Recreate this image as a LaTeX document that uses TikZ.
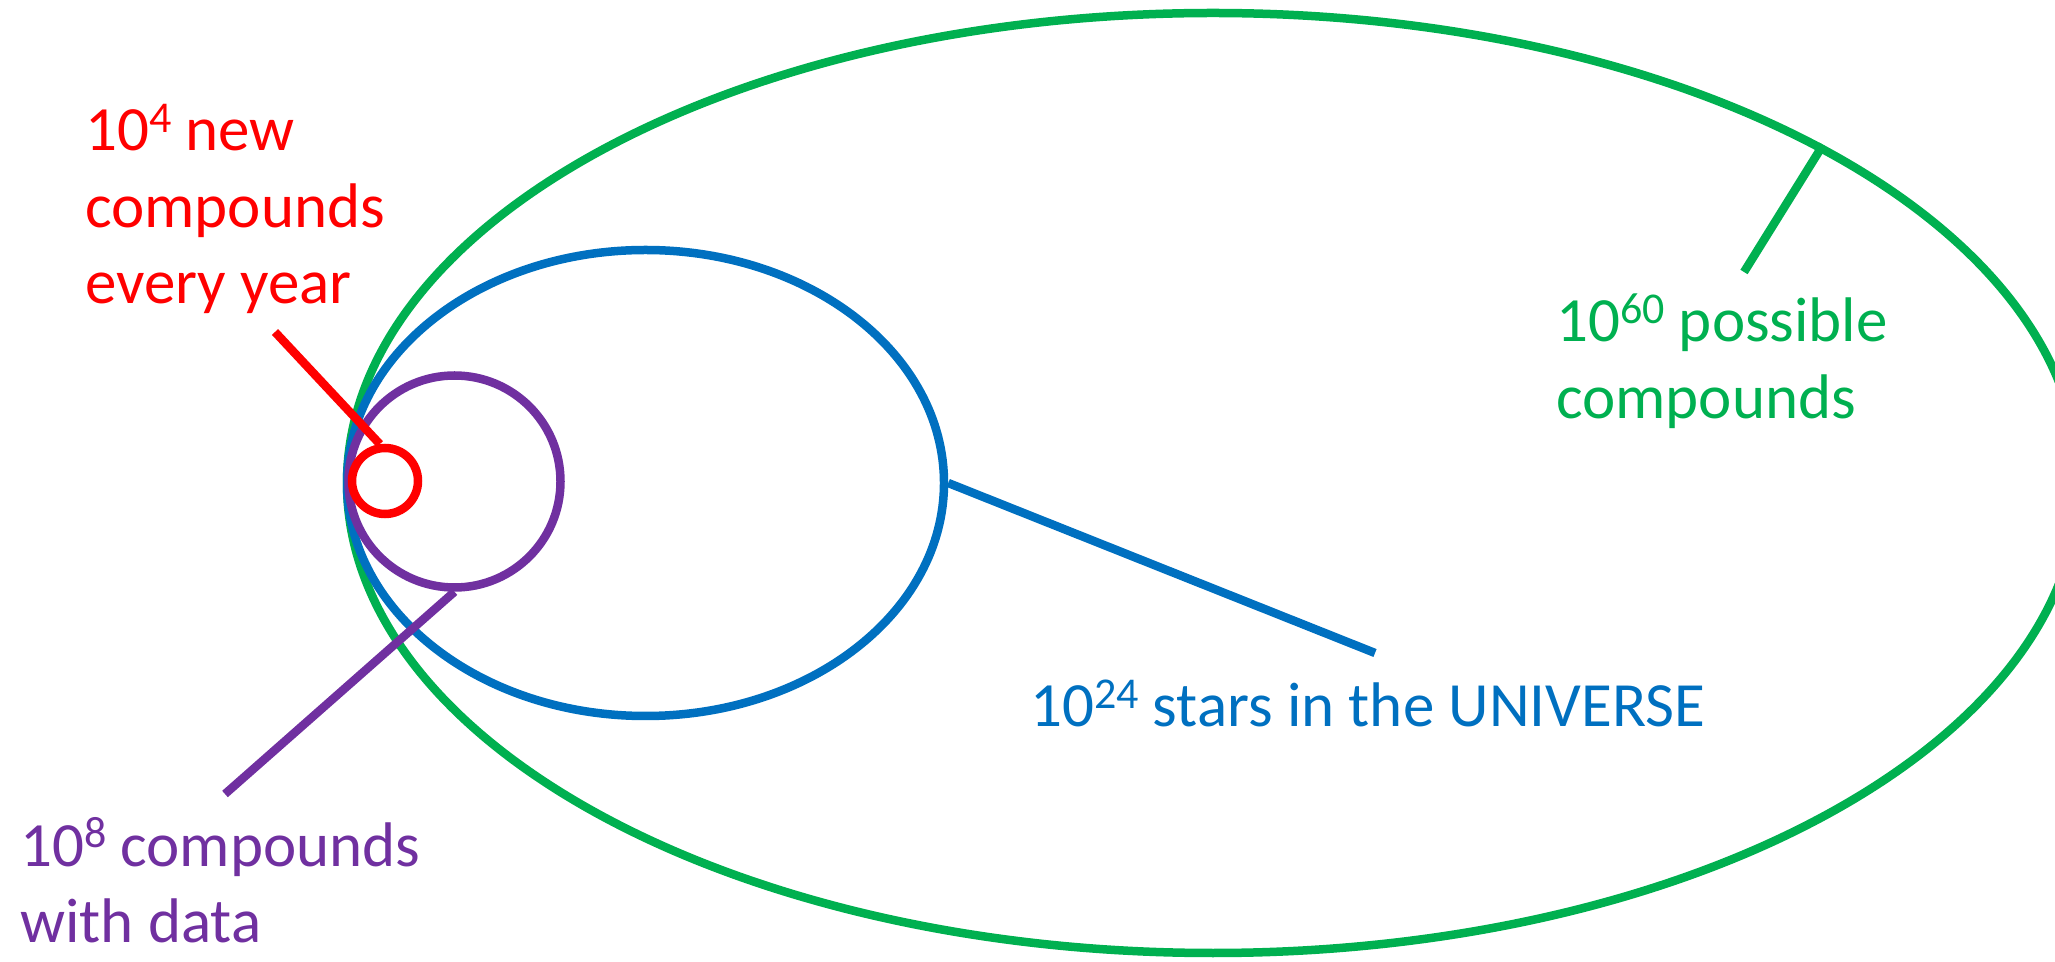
\documentclass[tikz,border=0pt]{standalone}
\usepackage{fontspec}
\setmainfont{Carlito}
\usetikzlibrary{shapes.geometric, positioning}

\definecolor{setgreen}{HTML}{00B050}
\definecolor{setblue}{HTML}{0070C0}
\definecolor{setpurple}{HTML}{7030A0}
\definecolor{setred}{HTML}{FF0000}

\newcommand{\expo}[1]{\raisebox{0.3em}{\fontsize{44}{44}\selectfont #1}}

\begin{document}
\begin{tikzpicture}[
    x=1pt, y=1pt,
    set/.style={draw, line width=8.5pt, inner sep=0pt},
    lbl/.style={anchor=base west, align=left, inner sep=0pt,
        font=\fontsize{63}{76.5}\selectfont},
    lead/.style={line width=8.5pt}
]
\useasboundingbox (0,0) rectangle (2055,961);

% the nested sets
\node[set, ellipse, setgreen, minimum width=1732pt, minimum height=940pt] (possible) at (1213,478) {};
\node[set, ellipse, setblue, minimum width=597pt, minimum height=466pt] (universe) at (645.5,478) {};
\node[set, circle, setpurple, minimum size=212pt] (withdata) at (454.5,479.5) {};
\node[set, circle, setred, minimum size=66pt] (newyear) at (385,480) {};

% labels (base = last line)
\node[lbl, setred] (newlbl) at (85,657) {10\expo{4} new\\compounds\\every year};
\node[lbl, setgreen] (possiblelbl) at (1556,542.5) {10\expo{60} possible\\compounds};
\node[lbl, setblue] (universelbl) at (1030,234) {10\expo{24} stars in the UNIVERSE};
\node[lbl, setpurple] (datalbl) at (20,18.5) {10\expo{8} compounds\\with data};

% leader lines
\coordinate (newend) at (275,629);
\coordinate (possibleend) at (1744,689);
\coordinate (universeend) at (1375,308);
\coordinate (dataend) at (225,167);
\draw[lead, setgreen] (possible.29) -- (possibleend);
\draw[lead, setblue] (universe.east) -- (universeend);
\draw[lead, setpurple] (withdata.south) -- (dataend);
\draw[lead, setred] (newyear.98) -- (newend);
\end{tikzpicture}
\end{document}
